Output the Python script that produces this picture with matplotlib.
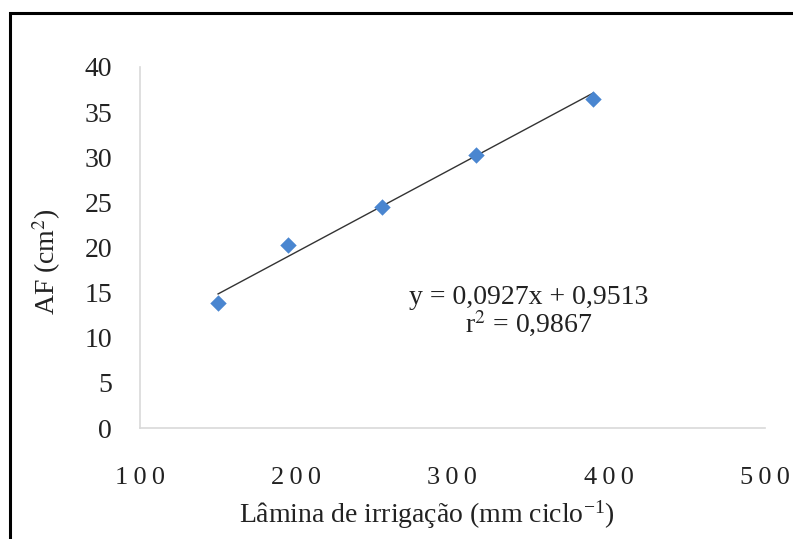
import numpy as np
import matplotlib
matplotlib.use("Agg")
import matplotlib.pyplot as plt
from matplotlib.patches import Rectangle

plt.rcParams['font.family'] = ['Liberation Serif', 'DejaVu Serif']
plt.rcParams['mathtext.fontset'] = 'stix'

# dados
lamina = [150, 195, 255, 315, 390]
af = [13.8, 20.3, 24.5, 30.2, 36.5]
coef_a = 0.0927
coef_b = 0.9513
x_ticks = [100, 200, 300, 400, 500]
x_tick_labels = ["1\u20090\u20090", "2\u20090\u20090", "3\u20090\u20090", "4\u20090\u20090", "5\u20090\u20090"]
y_ticks = [0, 5, 10, 15, 20, 25, 30, 35, 40]

fig = plt.figure(figsize=(7.93, 5.39), dpi=100)
ax = fig.add_axes([0.1765, 0.2059, 0.788, 0.6698])

# linha de tendencia
xl = np.array([min(lamina), max(lamina)])
ax.plot(xl, coef_a * xl + coef_b, color='#333333', lw=1.0, zorder=2)
ax.scatter(lamina, af, marker='D', s=70, color='#4a86d0', zorder=3, linewidths=0)

ax.set_xlim(100, 500)
ax.set_ylim(0, 40)
ax.set_xticks(x_ticks)
ax.set_xticklabels(x_tick_labels)
ax.set_yticks(y_ticks)
ax.tick_params(axis='x', length=0, pad=28, labelsize=19, colors='#222222')
ax.tick_params(axis='y', length=0, pad=20, labelsize=20, colors='#222222')

for s in ['top', 'right']:
    ax.spines[s].set_visible(False)
for s in ['left', 'bottom']:
    ax.spines[s].set_color('#d9d9d9')
    ax.spines[s].set_linewidth(1.2)

ax.set_ylabel(r'AF (cm$^{2}$)', fontsize=20, color='#222222')
ax.yaxis.set_label_coords(-0.123, 0.46)
ax.set_xlabel(r'Lâmina de irrigação (mm ciclo$^{\mathregular{-1}}$)', fontsize=20,
              color='#222222')
ax.xaxis.set_label_coords(0.459, -0.195)

eq = 'y = {:.4f}x + {:.4f}'.format(coef_a, coef_b).replace('.', ',')
ax.text(0.622, 0.395, eq + '\n' + r'r$^{2}$ = 0,9867', transform=ax.transAxes,
        ha='center', va='top', multialignment='center', linespacing=0.95,
        fontsize=20, color='#222222')

# moldura preta da figura
fig.patches.append(Rectangle((10 / 793, -0.05), 1.1, 1 - 13 / 539 + 0.05,
                             transform=fig.transFigure, fill=False,
                             edgecolor='black', lw=2.2, clip_on=False))

fig.savefig('out.png', dpi=100)
